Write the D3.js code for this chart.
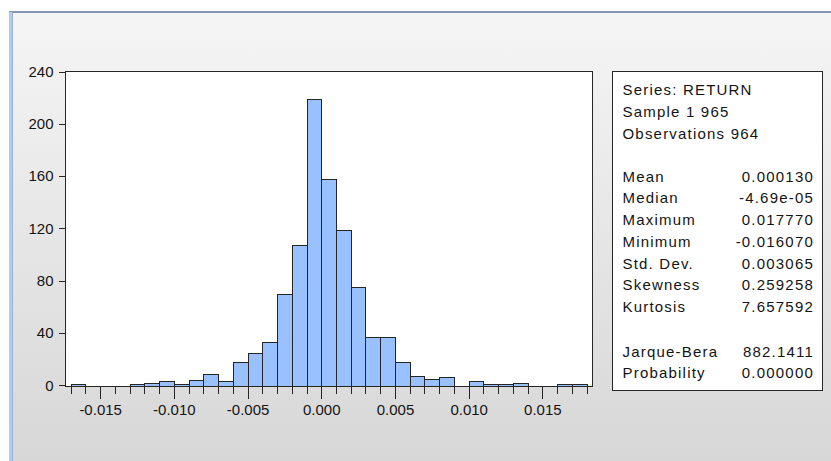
<!DOCTYPE html>
<html>
<head>
<meta charset="utf-8">
<script src="https://cdn.jsdelivr.net/npm/d3@7"></script>
<style>
  body { margin: 0; background: #fff; }
  svg { display: block; }
  text { font-family: "Liberation Sans", Arial, sans-serif; fill: #141414; }
</style>
</head>
<body>
<svg id="chart" width="831" height="461"></svg>
<script>
// Histogram bins (left edge of each 0.001 wide bin) and counts
const binLefts = [-0.017, -0.016, -0.015, -0.014, -0.013, -0.012, -0.011, -0.010, -0.009, -0.008,
  -0.007, -0.006, -0.005, -0.004, -0.003, -0.002, -0.001, 0.000, 0.001, 0.002,
  0.003, 0.004, 0.005, 0.006, 0.007, 0.008, 0.009, 0.010, 0.011, 0.012,
  0.013, 0.014, 0.015, 0.016, 0.017];
const counts = [1, 0, 0, 0, 1, 2, 3, 1, 4, 9,
  3, 18, 25, 33, 70, 107, 219, 158, 119, 75,
  37, 37, 18, 7, 5, 6, 0, 3, 1, 1,
  2, 0, 0, 1, 1];
const binWidth = 0.001;

// Axis ticks
const xMajorTicks = [-0.015, -0.010, -0.005, 0.000, 0.005, 0.010, 0.015];
const xTickLabels = ["-0.015", "-0.010", "-0.005", "0.000", "0.005", "0.010", "0.015"];
const yTicks = [0, 40, 80, 120, 160, 200, 240];

// Statistics box
const statLabels = ["Mean", "Median", "Maximum", "Minimum", "Std. Dev.", "Skewness", "Kurtosis"];
const statValues = ["0.000130", "-4.69e-05", "0.017770", "-0.016070", "0.003065", "0.259258", "7.657592"];
const testLabels = ["Jarque-Bera", "Probability"];
const testValues = ["882.1411", "0.000000"];
const headerLines = ["Series: RETURN", "Sample 1 965", "Observations 964"];

const svg = d3.select("#chart");

// window background
const defs = svg.append("defs");
const grad = defs.append("linearGradient")
  .attr("id", "bg").attr("x1", 0).attr("y1", 0).attr("x2", 0).attr("y2", 1);
grad.append("stop").attr("offset", "0%").attr("stop-color", "#f5f5f5");
grad.append("stop").attr("offset", "100%").attr("stop-color", "#d7d7d7");

svg.append("rect").attr("x", 9).attr("y", 12).attr("width", 822).attr("height", 449)
  .attr("fill", "url(#bg)");
svg.append("rect").attr("x", 9).attr("y", 11).attr("width", 822).attr("height", 2)
  .attr("fill", "#8597b0");
svg.append("rect").attr("x", 9).attr("y", 12).attr("width", 4).attr("height", 449)
  .attr("fill", "#b3cbeb");
svg.append("rect").attr("x", 12).attr("y", 12).attr("width", 1).attr("height", 449)
  .attr("fill", "#98b4dc");

// plot area
const plot = { left: 65.5, right: 592.5, top: 71.5, bottom: 386.5 };

const x = d3.scaleLinear()
  .domain([-0.01735, 0.0184])
  .range([plot.left, plot.right]);

const y = d3.scaleLinear()
  .domain([0, 240])
  .range([385.3, plot.top]);

svg.append("rect")
  .attr("x", plot.left).attr("y", plot.top)
  .attr("width", plot.right - plot.left).attr("height", plot.bottom - plot.top)
  .attr("fill", "#fff");

// bars
const bins = binLefts.map((b, i) => ({ x0: b, count: counts[i] })).filter(d => d.count > 0);

svg.selectAll("rect.bar")
  .data(bins)
  .enter()
  .append("rect")
  .attr("class", "bar")
  .attr("x", d => Math.round(x(d.x0)) + 0.5)
  .attr("y", d => Math.round(y(d.count)) + 0.5)
  .attr("width", d => Math.round(x(d.x0 + binWidth)) - Math.round(x(d.x0)))
  .attr("height", d => plot.bottom - (Math.round(y(d.count)) + 0.5))
  .attr("fill", "#99c1ff")
  .attr("stroke", "#262626")
  .attr("stroke-width", 1);

// frame
svg.append("rect")
  .attr("x", plot.left).attr("y", plot.top)
  .attr("width", plot.right - plot.left).attr("height", plot.bottom - plot.top)
  .attr("fill", "none")
  .attr("stroke", "#262626")
  .attr("stroke-width", 1);

// y axis
const yAxis = svg.append("g")
  .attr("transform", `translate(${plot.left},0)`)
  .call(d3.axisLeft(y).tickValues(yTicks).tickSize(7).tickPadding(5).tickFormat(d3.format("d")));
yAxis.select(".domain").remove();
yAxis.selectAll("line").attr("stroke", "#262626").attr("shape-rendering", "crispEdges");
yAxis.selectAll("text").style("font-size", "15px").attr("font-family", null).attr("fill", "#141414");

// x axis: minor ticks at every bin edge, long ticks with labels at 0.005 steps
const binEdges = binLefts.concat([binLefts[binLefts.length - 1] + binWidth]);
const xMinor = svg.append("g")
  .attr("transform", `translate(0,${plot.bottom})`)
  .call(d3.axisBottom(x).tickValues(binEdges).tickSize(7).tickFormat(""));
xMinor.select(".domain").remove();
xMinor.selectAll("line").attr("stroke", "#262626").attr("shape-rendering", "crispEdges");

const xMajor = svg.append("g")
  .attr("transform", `translate(0,${plot.bottom})`)
  .call(d3.axisBottom(x).tickValues(xMajorTicks).tickSize(12).tickPadding(6)
    .tickFormat((d, i) => xTickLabels[i]));
xMajor.select(".domain").remove();
xMajor.selectAll("line").attr("stroke", "#262626").attr("shape-rendering", "crispEdges");
xMajor.selectAll("text").style("font-size", "15px").attr("font-family", null).attr("fill", "#141414");

// statistics box
const box = { left: 612.5, top: 71.5, right: 822.5, bottom: 390.5 };
svg.append("rect")
  .attr("x", box.left).attr("y", box.top)
  .attr("width", box.right - box.left).attr("height", box.bottom - box.top)
  .attr("fill", "#fff")
  .attr("stroke", "#262626")
  .attr("stroke-width", 1);

const textLeft = 622.5;
const textRight = 814;
const lineH = 21.75;

function addText(str, tx, ty, anchor) {
  svg.append("text")
    .attr("x", tx).attr("y", ty)
    .attr("text-anchor", anchor)
    .style("font-size", "15px")
    .style("letter-spacing", "1.2px")
    .text(str);
}

headerLines.forEach((s, i) => addText(s, textLeft, 95.3 + i * lineH, "start"));
statLabels.forEach((s, i) => {
  addText(s, textLeft, 181.7 + i * lineH, "start");
  addText(statValues[i], textRight, 181.7 + i * lineH, "end");
});
testLabels.forEach((s, i) => {
  addText(s, textLeft, 356.7 + i * lineH, "start");
  addText(testValues[i], textRight, 356.7 + i * lineH, "end");
});
</script>
</body>
</html>
